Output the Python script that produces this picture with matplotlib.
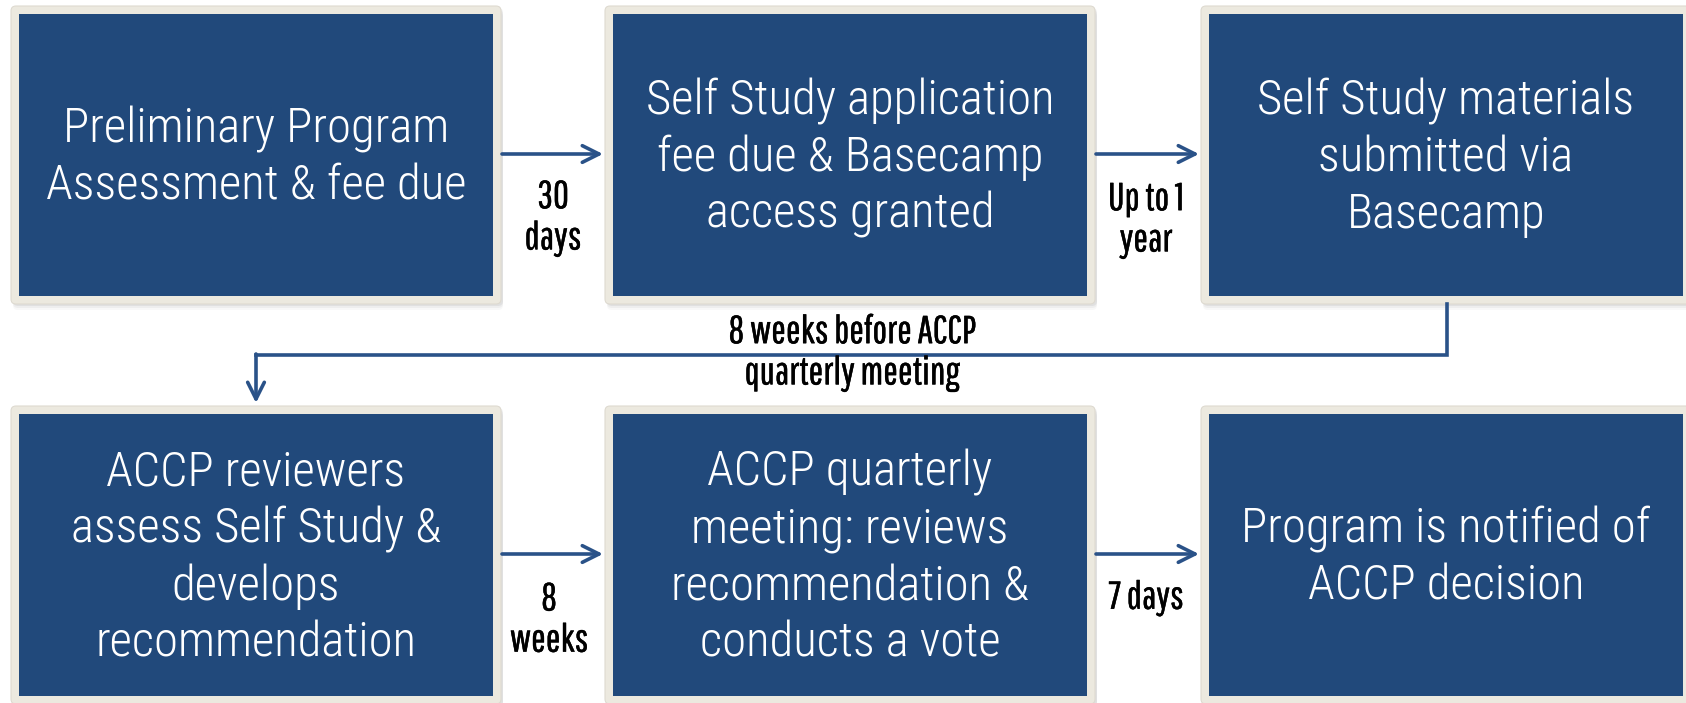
import matplotlib.pyplot as plt
import matplotlib.patheffects as pe
from matplotlib.patches import FancyBboxPatch, Rectangle
from matplotlib import font_manager

# flowchart content
box_texts = [
    "Preliminary Program\nAssessment & fee due",
    "Self Study application\nfee due & Basecamp\naccess granted",
    "Self Study materials\nsubmitted via\nBasecamp",
    "ACCP reviewers\nassess Self Study &\ndevelops\nrecommendation",
    "ACCP quarterly\nmeeting: reviews\nrecommendation &\nconducts a vote",
    "Program is notified of\nACCP decision",
]
step_labels = ["30\ndays", "Up to 1\nyear", "8\nweeks", "7 days"]
link_label = "8 weeks before ACCP\nquarterly meeting"

# colours
blue = "#21497b"
frame = "#ece9df"
arrow_col = "#2a5288"

names = {f.name for f in font_manager.fontManager.ttflist}


def pick(*cands):
    for c in cands:
        if c in names:
            return c
    return "DejaVu Sans"


box_font = pick("Roboto Condensed", "Open Sans", "DejaVu Sans")
lab_font = pick("Pathway Gothic One", "Antonio", "Oswald", "Roboto Condensed")

fig = plt.figure(figsize=(16.86, 7.03), dpi=100)
ax = fig.add_axes([0, 0, 1, 1])
ax.set_xlim(0, 1686)
ax.set_ylim(703, 0)
ax.axis("off")

col_x = [11, 605, 1201]   # outer left edge of each column
row_y = [6, 406]          # outer top edge of each row
bw, bh = 490, 298
pad = 8

for i, txt in enumerate(box_texts):
    x0 = col_x[i % 3]
    y0 = row_y[i // 3]
    # soft drop shadow
    for k, a in enumerate([0.05, 0.08, 0.12]):
        off = 6 - 2 * k
        ax.add_patch(FancyBboxPatch((x0 + 2, y0 + off), bw, bh,
                                    boxstyle="round,pad=0,rounding_size=5",
                                    fc="#7f7f7f", ec="none", alpha=a))
    ax.add_patch(FancyBboxPatch((x0, y0), bw, bh,
                                boxstyle="round,pad=0,rounding_size=5",
                                fc=frame, ec="#dedad0", lw=0.8))
    ax.add_patch(Rectangle((x0 + pad, y0 + pad), bw - 2 * pad, bh - 2 * pad,
                           fc=blue, ec="none"))
    ax.text(x0 + bw / 2, y0 + bh / 2 + 3, txt, ha="center", va="center",
            color="white", fontsize=35, family=box_font, fontweight=300,
            linespacing=1.28)

arrow_kw = dict(arrowstyle="->,head_length=1.2,head_width=0.6",
                color=arrow_col, lw=2.6, shrinkA=0, shrinkB=0)

# horizontal arrows between boxes
for row in range(2):
    y = row_y[row] + 148
    for c in range(2):
        xs = col_x[c] + bw + 1
        xe = col_x[c + 1] - 2
        ax.annotate("", xy=(xe, y), xytext=(xs, y), arrowprops=arrow_kw)

# elbow connector from box 3 down to box 4
ax.plot([1447, 1447, 256], [row_y[0] + bh, 355, 355], color=arrow_col, lw=2.6,
        solid_joinstyle="miter")
ax.annotate("", xy=(256, row_y[1] - 3), xytext=(256, 354), arrowprops=arrow_kw)

label_kw = dict(ha="center", va="center", color="black", fontsize=28,
                family=lab_font, linespacing=1.18,
                path_effects=[pe.withStroke(linewidth=0.3, foreground="black")])
ax.text(553, 218, step_labels[0], **label_kw)
ax.text(1146, 220, step_labels[1], **label_kw)
ax.text(549, 620, step_labels[2], **label_kw)
ax.text(1146, 598, step_labels[3], **label_kw)
ax.text(852, 353, link_label, **label_kw)

fig.savefig("out.png", dpi=100)
